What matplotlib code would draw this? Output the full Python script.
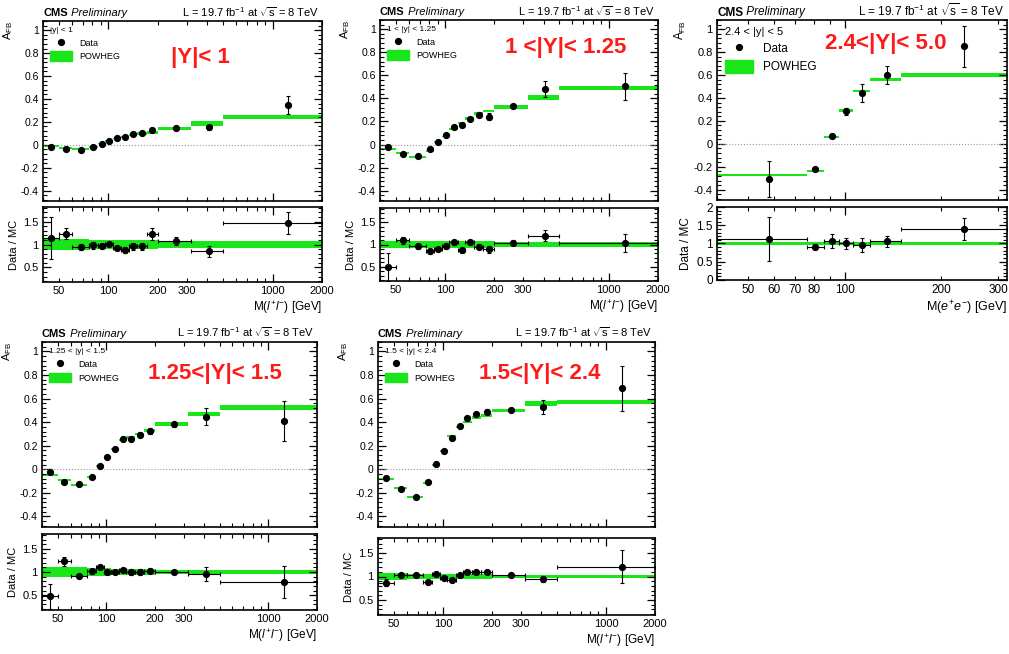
import numpy as np
import matplotlib
matplotlib.use("Agg")
import matplotlib.pyplot as plt
from matplotlib.lines import Line2D
from matplotlib.patches import Patch
from matplotlib.ticker import FixedLocator, FuncFormatter, MultipleLocator, NullFormatter

plt.rcParams['font.family'] = ['Liberation Sans', 'DejaVu Sans']
plt.rcParams['mathtext.fontset'] = 'custom'
plt.rcParams['mathtext.rm'] = 'Liberation Sans'
plt.rcParams['mathtext.it'] = 'Liberation Sans:italic'
plt.rcParams['mathtext.bf'] = 'Liberation Sans:bold'

# mass bin edges [GeV]
edges = [40, 50, 60, 76, 86, 96, 106, 120, 133, 150, 171, 200, 320, 500, 2000]
edges_fwd = [40, 76, 86, 96, 106, 120, 150, 320]

# POWHEG band half-widths
powheg_err = [0.008, 0.008, 0.008, 0.008, 0.008, 0.008, 0.008, 0.009, 0.01, 0.01, 0.012, 0.015, 0.02, 0.02]
powheg_err_fwd = [0.01, 0.01, 0.01, 0.01, 0.012, 0.015, 0.02]

# |y| < 1
afb1 = [-0.015, -0.04, -0.043, -0.017, 0.011, 0.034, 0.057, 0.066, 0.092, 0.103, 0.129, 0.144, 0.152, 0.348]
afb1_err = [0.008, 0.006, 0.005, 0.004, 0.003, 0.003, 0.004, 0.005, 0.006, 0.007, 0.009, 0.01, 0.022, 0.075]
mc1 = [-0.012, -0.03, -0.04, -0.02, 0.012, 0.035, 0.055, 0.07, 0.088, 0.1, 0.11, 0.14, 0.187, 0.243]
ratio1 = [1.14, 1.24, 0.95, 0.98, 0.96, 1.015, 0.92, 0.88, 0.96, 0.96, 1.23, 1.08, 0.85, 1.47]
ratio1_err = [0.46, 0.13, 0.07, 0.08, 0.06, 0.05, 0.05, 0.06, 0.07, 0.08, 0.13, 0.08, 0.12, 0.25]
band1 = [0.13, 0.12, 0.11, 0.1, 0.1, 0.1, 0.09, 0.09, 0.09, 0.09, 0.09, 0.07, 0.07, 0.07]

# 1 < |y| < 1.25
afb2 = [-0.02, -0.08, -0.098, -0.04, 0.023, 0.08, 0.15, 0.17, 0.225, 0.26, 0.24, 0.33, 0.478, 0.504]
afb2_err = [0.01, 0.01, 0.01, 0.008, 0.006, 0.007, 0.01, 0.012, 0.015, 0.02, 0.03, 0.015, 0.07, 0.12]
mc2 = [-0.04, -0.07, -0.105, -0.055, 0.02, 0.07, 0.135, 0.185, 0.225, 0.27, 0.29, 0.325, 0.41, 0.49]
ratio2 = [0.5, 1.09, 0.96, 0.85, 0.9, 0.96, 1.05, 0.87, 1.05, 0.95, 0.89, 1.04, 1.2, 1.04]
ratio2_err = [0.32, 0.08, 0.05, 0.06, 0.05, 0.05, 0.05, 0.06, 0.06, 0.06, 0.07, 0.05, 0.13, 0.2]
band2 = [0.08, 0.08, 0.08, 0.07, 0.07, 0.07, 0.07, 0.07, 0.07, 0.07, 0.07, 0.05, 0.05, 0.05]

# 2.4 < |y| < 5
afb3 = [-0.306, -0.217, 0.065, 0.282, 0.445, 0.6, 0.85]
afb3_err = [0.16, 0.015, 0.01, 0.03, 0.08, 0.08, 0.18]
mc3 = [-0.27, -0.235, 0.06, 0.29, 0.46, 0.56, 0.6]
ratio3 = [1.13, 0.91, 1.07, 1.0, 0.955, 1.06, 1.4]
ratio3_err = [0.6, 0.07, 0.2, 0.15, 0.2, 0.15, 0.3]
band3 = [0.04, 0.05, 0.05, 0.05, 0.05, 0.04, 0.04]

# 1.25 < |y| < 1.5
afb4 = [-0.023, -0.108, -0.125, -0.068, 0.031, 0.105, 0.168, 0.256, 0.26, 0.293, 0.327, 0.38, 0.446, 0.41]
afb4_err = [0.01, 0.01, 0.01, 0.008, 0.008, 0.008, 0.01, 0.012, 0.015, 0.02, 0.025, 0.025, 0.07, 0.17]
mc4 = [-0.05, -0.09, -0.135, -0.063, 0.03, 0.1, 0.17, 0.245, 0.27, 0.3, 0.33, 0.385, 0.47, 0.525]
ratio4 = [0.48, 1.23, 0.92, 1.015, 1.11, 1.0, 1.0, 1.04, 1.0, 1.0, 1.03, 1.0, 0.96, 0.78]
ratio4_err = [0.27, 0.1, 0.04, 0.05, 0.03, 0.04, 0.04, 0.05, 0.06, 0.06, 0.06, 0.05, 0.15, 0.35]
band4 = [0.1, 0.1, 0.1, 0.09, 0.08, 0.08, 0.07, 0.07, 0.07, 0.07, 0.06, 0.05, 0.05, 0.05]

# 1.5 < |y| < 2.4
afb5 = [-0.076, -0.165, -0.238, -0.106, 0.042, 0.154, 0.263, 0.364, 0.437, 0.473, 0.49, 0.507, 0.527, 0.686]
afb5_err = [0.01, 0.01, 0.01, 0.008, 0.006, 0.008, 0.012, 0.01, 0.012, 0.015, 0.02, 0.015, 0.06, 0.19]
mc5 = [-0.084, -0.16, -0.235, -0.115, 0.036, 0.157, 0.283, 0.358, 0.4, 0.44, 0.454, 0.5, 0.56, 0.571]
ratio5 = [0.87, 1.04, 1.03, 0.88, 1.06, 0.96, 0.92, 1.03, 1.09, 1.09, 1.1, 1.03, 0.95, 1.21]
ratio5_err = [0.07, 0.03, 0.03, 0.03, 0.03, 0.03, 0.03, 0.03, 0.03, 0.03, 0.04, 0.03, 0.07, 0.35]
band5 = [0.07, 0.07, 0.06, 0.06, 0.06, 0.06, 0.05, 0.05, 0.05, 0.05, 0.05, 0.04, 0.04, 0.04]

labels_std = [50, 100, 200, 300, 1000, 2000]
labels_fwd = [50, 60, 70, 80, 100, 200, 300]

GREEN = '#19e619'
RED = '#ff1a1a'
W, H = 1009, 654


def rect(l, t, r, b):
    return [l / W, 1 - b / H, (r - l) / W, (b - t) / H]


def style_x(ax, xlim, labels, show, fs):
    ax.set_xscale('log')
    ax.set_xlim(xlim)
    ax.xaxis.set_major_locator(FixedLocator([100, 1000]))
    ax.xaxis.set_minor_locator(FixedLocator([v * d for d in (10, 100, 1000) for v in range(2, 10)]))
    if show:
        fmt = FuncFormatter(lambda v, p: '%g' % v if any(abs(v - l) < 1e-6 for l in labels) else '')
        ax.xaxis.set_major_formatter(fmt)
        ax.xaxis.set_minor_formatter(fmt)
    else:
        ax.xaxis.set_major_formatter(NullFormatter())
        ax.xaxis.set_minor_formatter(NullFormatter())
    ax.tick_params(which='both', direction='in', top=True, right=True, labelsize=fs, pad=3)
    ax.tick_params(which='major', length=6, width=0.9)
    ax.tick_params(which='minor', length=3, width=0.8)
    for s in ax.spines.values():
        s.set_linewidth(1.2)


def panel(main_box, ratio_box, bins, afb, afb_err, mc, mc_err, ratio, ratio_err, band,
          xlim, labels, xlabel, rlim, rticks, sel, big, big_xy, fs, leg_fs):
    e = np.array(bins, dtype=float)
    c = (e[:-1] + e[1:]) / 2
    w = np.diff(e)
    mc = np.array(mc)
    mc_err = np.array(mc_err)

    ax = fig.add_axes(rect(*main_box))
    ax.bar(e[:-1], 2 * mc_err, bottom=mc - mc_err, width=w, align='edge', color=GREEN, lw=0)
    ax.axhline(0, color='0.6', ls=':', lw=0.8)
    ax.errorbar(c, afb, yerr=afb_err, fmt='o', color='k', ms=4.2, elinewidth=0.8, capsize=1.5, capthick=0.8)
    style_x(ax, xlim, labels, False, fs)
    ax.set_ylim(-0.49, 1.08)
    ax.yaxis.set_major_locator(MultipleLocator(0.2))
    ax.yaxis.set_minor_locator(MultipleLocator(0.04))
    ax.yaxis.set_major_formatter(FuncFormatter(lambda v, p: '%g' % round(v, 2)))
    ax.set_ylabel(r'A$_{\mathrm{FB}}$', loc='top', fontsize=fs + 0.5, labelpad=4)
    t = ax.text(0.0, 1.025, 'CMS', weight='bold', fontsize=fs + 0.5, transform=ax.transAxes)
    ax.annotate(' Preliminary', xy=(1, 0), xycoords=t, style='italic', fontsize=fs + 0.5, va='bottom')
    ax.text(0.99, 1.025, r'L = 19.7 fb$^{-1}$ at $\sqrt{\mathrm{s}}$ = 8 TeV', ha='right',
            fontsize=fs + 0.5, transform=ax.transAxes)
    handles = [Line2D([], [], marker='o', ls='none', color='k', ms=4.2), Patch(color=GREEN)]
    ax.legend(handles, ['Data', 'POWHEG'], title=sel, loc='upper left', frameon=False,
              bbox_to_anchor=(0.02, 0.975), fontsize=leg_fs, title_fontsize=leg_fs - 0.5,
              alignment='left', handlelength=2.4, handleheight=1.3, borderaxespad=0,
              borderpad=0.2, labelspacing=0.4)
    fig.text(big_xy[0] / W, 1 - big_xy[1] / H, big, color=RED, fontsize=16, weight='bold',
             ha='center', va='center')

    rx = fig.add_axes(rect(*ratio_box))
    band = np.array(band)
    rx.bar(e[:-1], 2 * band, bottom=1 - band, width=w, align='edge', color=GREEN, lw=0)
    rx.errorbar(c, ratio, yerr=ratio_err, xerr=w / 2, fmt='o', color='k', ms=4.2,
                elinewidth=0.8, capsize=1.5, capthick=0.8)
    style_x(rx, xlim, labels, True, fs + 0.5)
    rx.set_ylim(rlim)
    rx.yaxis.set_major_locator(FixedLocator(rticks))
    rx.yaxis.set_minor_locator(MultipleLocator(0.1))
    rx.yaxis.set_major_formatter(FuncFormatter(lambda v, p: '%g' % v))
    rx.set_ylabel('Data / MC', fontsize=fs + 0.5, labelpad=3)
    rx.set_xlabel(xlabel, loc='right', fontsize=fs + 1, labelpad=2)


fig = plt.figure(figsize=(W / 100, H / 100), dpi=100)
lbl = r'M($l^{+}l^{-}$) [GeV]'

panel((43, 21, 322, 201), (43, 207, 322, 282), edges, afb1, afb1_err, mc1, powheg_err,
      ratio1, ratio1_err, band1, (40, 2000), labels_std, lbl, (0.18, 1.82), [0.5, 1, 1.5],
      '|y| < 1', '|Y|< 1', (200, 58), 7.5, 6.5)
panel((380, 20, 658, 201), (380, 208, 658, 281), edges, afb2, afb2_err, mc2, powheg_err,
      ratio2, ratio2_err, band2, (40, 2000), labels_std, lbl, (0.18, 1.82), [0.5, 1, 1.5],
      '1 < |y| < 1.25', '1 <|Y|< 1.25', (566, 48), 7.5, 6.5)
panel((717, 20, 1007, 200), (717, 207, 1007, 280), edges_fwd, afb3, afb3_err, mc3, powheg_err_fwd,
      ratio3, ratio3_err, band3, (40, 320), labels_fwd, r'M($e^{+}e^{-}$) [GeV]', (0, 2.0),
      [0, 0.5, 1, 1.5, 2], '2.4 < |y| < 5', '2.4<|Y|< 5.0', (886, 43), 8, 8.5)
panel((42, 342, 317, 527), (42, 534, 317, 610), edges, afb4, afb4_err, mc4, powheg_err,
      ratio4, ratio4_err, band4, (40, 2000), labels_std, lbl, (0.18, 1.82), [0.5, 1, 1.5],
      '1.25 < |y| < 1.5', '1.25<|Y|< 1.5', (215, 373), 7.5, 6.5)
panel((378, 342, 655, 527), (378, 538, 655, 615), edges, afb5, afb5_err, mc5, powheg_err,
      ratio5, ratio5_err, band5, (40, 2000), labels_std, lbl, (0.18, 1.82), [0.5, 1, 1.5],
      '1.5 < |y| < 2.4', '1.5<|Y|< 2.4', (540, 373), 7.5, 6.5)

fig.savefig('out.png', dpi=100)
